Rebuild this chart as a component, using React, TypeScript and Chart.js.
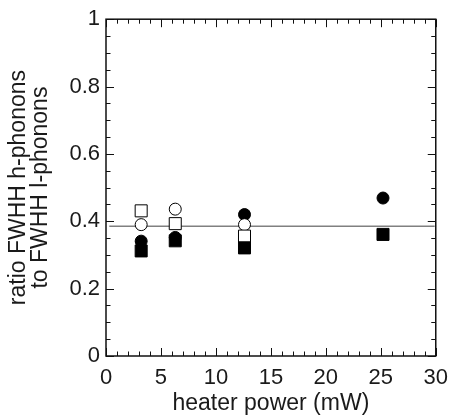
import React, { useEffect, useRef } from 'react';
import { Chart, registerables } from 'chart.js';

Chart.register(...registerables);

// heater power (mW) of the measured points
const powerX = [3.2, 6.3, 12.6, 25.2];
// ratio FWHH h-phonons / FWHH l-phonons for the four marker series
const filledSquareY = [0.312, 0.342, 0.321, 0.361];
const openSquareY = [0.431, 0.393, 0.356, null];
const openCircleY = [0.39, 0.436, 0.39, null];
const filledCircleY = [0.341, 0.352, 0.42, 0.469];
// horizontal reference line
const refLineX = [0.3, 29.9];
const refLineY = [0.385, 0.385];
// axes
const xMin = 0, xMax = 30, xStep = 5, xMinorStep = 1;
const yMin = 0, yMax = 1, yStep = 0.2, yMinorStep = 0.05;
const xTitle = 'heater power (mW)';
const yTitle = ['ratio FWHH h-phonons', 'to FWHH l-phonons'];

const FONT = "'Liberation Sans', Arial, Helvetica, sans-serif";

const toPts = (xs: number[], ys: (number | null)[]) =>
  xs.map((x, i) => ({ x, y: ys[i] })).filter((p) => p.y !== null);

const framePlugin = {
  id: 'frameTicks',
  beforeDatasetsDraw(chart: any) {
    const { ctx, chartArea, scales } = chart;
    const { left, right, top, bottom } = chartArea;
    const xs = scales.x;
    const ys = scales.y;
    ctx.save();
    ctx.strokeStyle = '#111';
    ctx.lineWidth = 1;
    ctx.beginPath();
    const nx = Math.round((xMax - xMin) / xMinorStep);
    const majorEveryX = Math.round(xStep / xMinorStep);
    for (let i = 0; i <= nx; i++) {
      const v = xMin + i * xMinorStep;
      const px = Math.round(xs.getPixelForValue(v)) + 0.5;
      const len = i % majorEveryX === 0 ? 8 : 4.5;
      ctx.moveTo(px, bottom);
      ctx.lineTo(px, bottom - len);
      ctx.moveTo(px, top);
      ctx.lineTo(px, top + len);
    }
    const ny = Math.round((yMax - yMin) / yMinorStep);
    const majorEveryY = Math.round(yStep / yMinorStep);
    for (let i = 0; i <= ny; i++) {
      const v = yMin + i * yMinorStep;
      const py = Math.round(ys.getPixelForValue(v)) + 0.5;
      const len = i % majorEveryY === 0 ? 8 : 4.5;
      ctx.moveTo(left, py);
      ctx.lineTo(left + len, py);
      ctx.moveTo(right, py);
      ctx.lineTo(right - len, py);
    }
    ctx.stroke();
    ctx.lineWidth = 1.5;
    ctx.strokeRect(left, top, right - left, bottom - top);
    ctx.restore();
  },
};

export default function App() {
  const ref = useRef<HTMLCanvasElement | null>(null);
  useEffect(() => {
    document.body.style.margin = '0';
    const canvas = ref.current;
    if (!canvas) return;
    const chart = new Chart(canvas, {
      type: 'scatter',
      data: {
        datasets: [
          {
            label: 'filled square',
            data: toPts(powerX, filledSquareY),
            pointStyle: 'rect',
            pointRadius: 8.5,
            backgroundColor: '#000',
            borderColor: '#000',
            borderWidth: 1,
          },
          {
            label: 'open square',
            data: toPts(powerX, openSquareY),
            pointStyle: 'rect',
            pointRadius: 8.5,
            backgroundColor: '#fff',
            borderColor: '#000',
            borderWidth: 1,
          },
          {
            label: 'open circle',
            data: toPts(powerX, openCircleY),
            pointStyle: 'circle',
            pointRadius: 6,
            backgroundColor: '#fff',
            borderColor: '#000',
            borderWidth: 1,
          },
          {
            label: 'filled circle',
            data: toPts(powerX, filledCircleY),
            pointStyle: 'circle',
            pointRadius: 6,
            backgroundColor: '#000',
            borderColor: '#000',
            borderWidth: 1,
          },
          {
            type: 'line',
            label: 'reference',
            data: toPts(refLineX, refLineY),
            borderColor: '#808080',
            borderWidth: 1.5,
            pointRadius: 0,
            fill: false,
          } as any,
        ],
      },
      options: {
        animation: false,
        responsive: false,
        events: [],
        layout: { padding: { top: 16, right: 13, left: 0, bottom: 0 } },
        plugins: { legend: { display: false }, tooltip: { enabled: false } },
        scales: {
          x: {
            type: 'linear',
            min: xMin,
            max: xMax,
            grid: { display: false, drawTicks: false },
            border: { display: false },
            ticks: {
              stepSize: xStep,
              padding: 9,
              color: '#1a1a1a',
              font: { family: FONT, size: 22 },
            },
            title: {
              display: true,
              text: xTitle,
              color: '#1a1a1a',
              font: { family: FONT, size: 23, lineHeight: 1 },
              padding: { top: 0, bottom: 4 },
            },
            afterFit: (s: any) => {
              s.height = 63;
            },
          },
          y: {
            type: 'linear',
            min: yMin,
            max: yMax,
            grid: { display: false, drawTicks: false },
            border: { display: false },
            ticks: {
              stepSize: yStep,
              padding: 6,
              color: '#1a1a1a',
              font: { family: FONT, size: 22 },
              callback: (v: any) => String(Number(Number(v).toFixed(2))),
            },
            title: {
              display: true,
              text: yTitle,
              color: '#1a1a1a',
              font: { family: FONT, size: 23, lineHeight: 0.95 },
              padding: { top: 8, bottom: 0 },
            },
            afterFit: (s: any) => {
              s.width = 106;
            },
          },
        },
      },
      plugins: [framePlugin],
    });
    return () => chart.destroy();
  }, []);
  return <canvas ref={ref} width={457} height={419} style={{ display: 'block' }} />;
}
